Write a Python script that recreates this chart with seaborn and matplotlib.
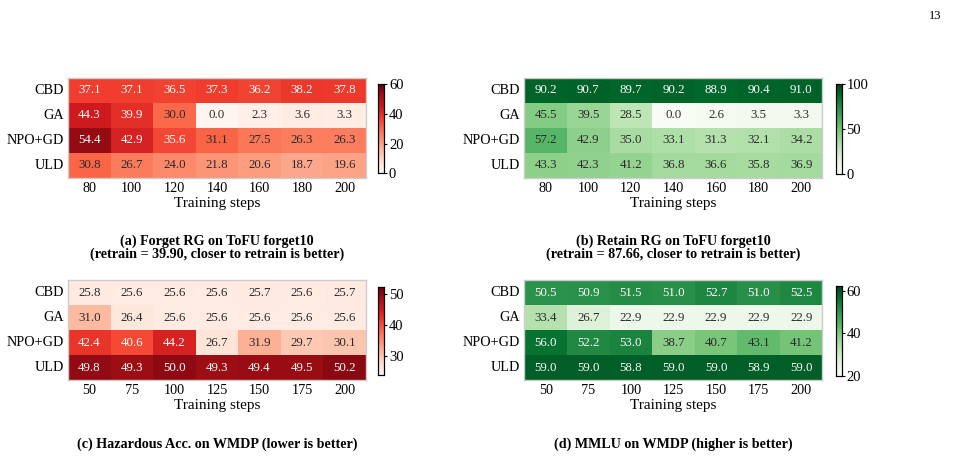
import numpy as np
import pandas as pd
import matplotlib
matplotlib.use("Agg")
import matplotlib.pyplot as plt
import seaborn as sns
from matplotlib.colors import Normalize, to_rgb

sns.set_theme(style="white")
plt.rcParams['font.family'] = ['Liberation Serif', 'DejaVu Serif']
plt.rcParams['text.color'] = 'black'
plt.rcParams['xtick.color'] = 'black'
plt.rcParams['ytick.color'] = 'black'
plt.rcParams['axes.labelcolor'] = 'black'

methods = ['CBD', 'GA', 'NPO+GD', 'ULD']
steps_tofu = [80, 100, 120, 140, 160, 180, 200]
steps_wmdp = [50, 75, 100, 125, 150, 175, 200]

forget_rg = [[37.1, 37.1, 36.5, 37.3, 36.2, 38.2, 37.8],
             [44.3, 39.9, 30.0, 0.0, 2.3, 3.6, 3.3],
             [54.4, 42.9, 35.6, 31.1, 27.5, 26.3, 26.3],
             [30.8, 26.7, 24.0, 21.8, 20.6, 18.7, 19.6]]
retain_rg = [[90.2, 90.7, 89.7, 90.2, 88.9, 90.4, 91.0],
             [45.5, 39.5, 28.5, 0.0, 2.6, 3.5, 3.3],
             [57.2, 42.9, 35.0, 33.1, 31.3, 32.1, 34.2],
             [43.3, 42.3, 41.2, 36.8, 36.6, 35.8, 36.9]]
hazardous_acc = [[25.8, 25.6, 25.6, 25.6, 25.7, 25.6, 25.7],
                 [31.0, 26.4, 25.6, 25.6, 25.6, 25.6, 25.6],
                 [42.4, 40.6, 44.2, 26.7, 31.9, 29.7, 30.1],
                 [49.8, 49.3, 50.0, 49.3, 49.4, 49.5, 50.2]]
mmlu = [[50.5, 50.9, 51.5, 51.0, 52.7, 51.0, 52.5],
        [33.4, 26.7, 22.9, 22.9, 22.9, 22.9, 22.9],
        [56.0, 52.2, 53.0, 38.7, 40.7, 43.1, 41.2],
        [59.0, 59.0, 58.8, 59.0, 59.0, 58.9, 59.0]]

titles = ['(a) Forget RG on ToFU forget10\n(retrain = 39.90, closer to retrain is better)',
          '(b) Retain RG on ToFU forget10\n(retrain = 87.66, closer to retrain is better)',
          '(c) Hazardous Acc. on WMDP (lower is better)',
          '(d) MMLU on WMDP (higher is better)']


def luminance(c):
    rgb = np.array(to_rgb(c))
    lin = np.where(rgb <= 0.03928, rgb / 12.92, ((rgb + 0.055) / 1.055) ** 2.4)
    return 0.2126 * lin[0] + 0.7152 * lin[1] + 0.0722 * lin[2]


fig = plt.figure(figsize=(9.56, 4.58), dpi=100)

panels = [
    (forget_rg, steps_tofu, 'Reds', 0, 60, [0, 20, 40, 60],
     [0.0711, 0.6114], [0.3954, 0.6212, 0.1954]),
    (retain_rg, steps_tofu, 'Greens', 0, 100, [0, 50, 100],
     [0.5486, 0.6114], [0.8740, 0.6200, 0.1965]),
    (hazardous_acc, steps_wmdp, 'Reds', 23.9, 52.3, [30, 40, 50],
     [0.0711, 0.1703], [0.3954, 0.1812, 0.1921]),
    (mmlu, steps_wmdp, 'Greens', 20, 62.4, [20, 40, 60],
     [0.5486, 0.1703], [0.8740, 0.1801, 0.1954]),
]

for i, (vals, steps, cmap, vmin, vmax, cticks, axpos, cbpos) in enumerate(panels):
    df = pd.DataFrame(vals, index=methods, columns=steps)
    ax = fig.add_axes([axpos[0], axpos[1], 0.3117, 0.2183])
    cax = fig.add_axes([cbpos[0], cbpos[1], 0.0063, cbpos[2]])
    sns.heatmap(df, ax=ax, cbar_ax=cax, cmap=cmap, vmin=vmin, vmax=vmax,
                annot=True, fmt='.1f', annot_kws={'fontsize': 9.3})
    # text colour by cell luminance
    cm = plt.get_cmap(cmap)
    norm = Normalize(vmin, vmax)
    flat = np.array(vals).ravel()
    for t, v in zip(ax.texts, flat):
        t.set_color('white' if luminance(cm(norm(v))) < 0.27 else '#2a2a2a')
    for s in ax.spines.values():
        s.set_visible(True)
        s.set_color('#cccccc')
        s.set_linewidth(1.0)
    ax.tick_params(length=0, labelsize=10.3, pad=3)
    ax.set_yticklabels(methods, rotation=0)
    ax.set_xticklabels([str(s) for s in steps], rotation=0)
    ax.set_ylabel('')
    ax.set_xlabel('Training steps', fontsize=11, labelpad=1)

    cax.set_yticks(cticks)
    cax.tick_params(length=2.5, width=0.8, labelsize=10.5, pad=1, colors='black')
    for s in cax.spines.values():
        s.set_visible(True)
        s.set_color('black')
        s.set_linewidth(0.8)

    cx = axpos[0] + 0.3117 / 2
    ty = 0.4585 if i < 2 else 0.0306
    fig.text(cx, ty, titles[i], ha='center', va='center', fontsize=10.2,
             fontweight='bold', linespacing=0.95)

fig.text(0.985, 0.966, '13', ha='right', va='center', fontsize=9)

fig.savefig('out.png', dpi=100)
